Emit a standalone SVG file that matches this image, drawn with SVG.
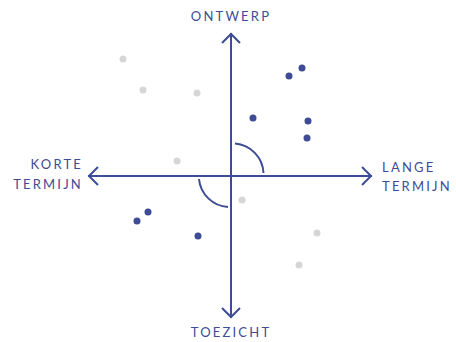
<svg xmlns="http://www.w3.org/2000/svg" width="456" height="342" viewBox="0 0 456 342">
<style>
.ax{stroke:#3d4c95;stroke-width:2;fill:none;stroke-linecap:butt}
.lbl{font-family:Lato,"Open Sans",sans-serif;font-size:13px;fill:#3d4c95;letter-spacing:2.2px}
.b{fill:#3d4c95}
.g{fill:#d6d6d6}
</style>
<rect width="456" height="342" fill="#fff"/>
<g id="connectors">
<line class="ax" x1="231" y1="33" x2="231" y2="318"/>
<line class="ax" x1="88" y1="176" x2="372" y2="176"/>
<polyline class="ax" points="222,43 231,34 240,43"/>
<polyline class="ax" points="222,308 231,317 240,308"/>
<polyline class="ax" points="98,167 89,176 98,185"/>
<polyline class="ax" points="362,167 371,176 362,185"/>
<path class="ax" d="M235,143.5 A31,31 0 0 1 263.5,173"/>
<path class="ax" d="M199,179 A31,31 0 0 0 228,207"/>
</g>
<g id="ontwerp"><text class="lbl" x="231" y="21" text-anchor="middle">ONTWERP</text></g>
<g id="toezicht"><text class="lbl" x="231" y="337" text-anchor="middle">TOEZICHT</text></g>
<g id="korte-termijn"><text class="lbl" text-anchor="end"><tspan x="83" y="169">KORTE</tspan><tspan x="83" y="189">TERMIJN</tspan></text></g>
<g id="lange-termijn"><text class="lbl"><tspan x="382" y="172">LANGE</tspan><tspan x="382" y="191">TERMIJN</tspan></text></g>
<g id="dots">
<circle class="b" cx="289" cy="76" r="3.5"/>
<circle class="b" cx="302" cy="68" r="3.5"/>
<circle class="b" cx="253" cy="118" r="3.5"/>
<circle class="b" cx="308" cy="121" r="3.5"/>
<circle class="b" cx="307" cy="138" r="3.5"/>
<circle class="b" cx="137" cy="221" r="3.5"/>
<circle class="b" cx="148" cy="212" r="3.5"/>
<circle class="b" cx="198" cy="236" r="3.5"/>
<circle class="g" cx="123" cy="59" r="3.5"/>
<circle class="g" cx="143" cy="90" r="3.5"/>
<circle class="g" cx="197" cy="93" r="3.5"/>
<circle class="g" cx="177" cy="161" r="3.5"/>
<circle class="g" cx="242" cy="200" r="3.5"/>
<circle class="g" cx="317" cy="233" r="3.5"/>
<circle class="g" cx="299" cy="265" r="3.5"/>
</g>
</svg>
